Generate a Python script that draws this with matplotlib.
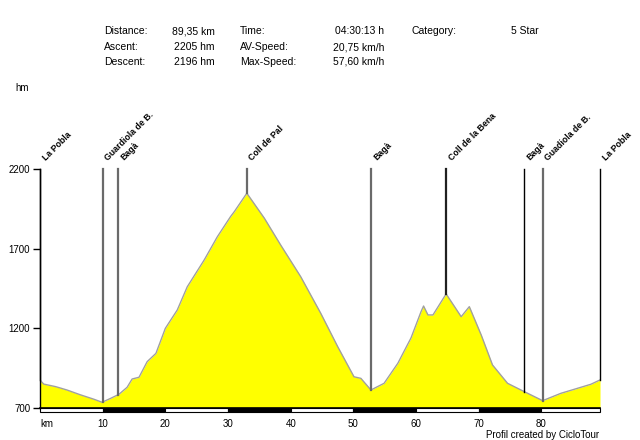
import numpy as np
import matplotlib
matplotlib.use("Agg")
import matplotlib.pyplot as plt
from matplotlib.patches import Rectangle
from matplotlib.transforms import blended_transform_factory

plt.rcParams['font.family'] = ['Liberation Sans', 'DejaVu Sans']

# elevation profile (km, hm)
km = [0, 0.6, 2.5, 4.3, 6.5, 8.6, 9.9, 11.3, 12.6, 13.9, 14.7, 15.8, 17.1, 18.5,
      20.0, 21.9, 23.5, 26.2, 28.3, 30.4, 31.0, 33.0, 35.8, 38.4, 41.6, 44.8,
      47.5, 50.1, 51.2, 52.8, 54.9, 57.1, 59.2, 60.8, 61.2, 61.9, 62.7, 64.8,
      67.2, 68.5, 70.4, 72.2, 74.6, 77.3, 80.2, 83.1, 85.8, 87.9, 89.35]
elev = [875, 850, 834, 813, 782, 755, 736, 761, 786, 830, 882, 893, 991, 1043,
        1200, 1315, 1461, 1629, 1775, 1901, 1932, 2048, 1891, 1723, 1524, 1294,
        1085, 896, 886, 813, 855, 981, 1140, 1305, 1340, 1284, 1284, 1416,
        1273, 1336, 1158, 970, 855, 802, 746, 792, 824, 849, 876]

# waypoints
wp_km = [0, 10.0, 12.5, 33.0, 52.8, 64.8, 77.3, 80.2, 89.35]
wp_names = ["La Pobla", "Guardiola de B.", "Bagà", "Coll de Pal", "Bagà",
            "Coll de la Bena", "Bagà", "Guadiola de B.", "La Pobla"]
wp_colors = ["#000000", "#6a6a6a", "#6a6a6a", "#6a6a6a", "#6a6a6a",
             "#202020", "#000000", "#6a6a6a", "#000000"]

yticks = [700, 1200, 1700, 2200]
xticks = [10, 20, 30, 40, 50, 60, 70, 80]

# header stats
stats_left = [("Distance:", "89,35 km"), ("Ascent:", "2205 hm"), ("Descent:", "2196 hm")]
stats_mid = [("Time:", "04:30:13 h"), ("AV-Speed:", "20,75 km/h"), ("Max-Speed:", "57,60 km/h")]

W, H = 640, 440
fig = plt.figure(figsize=(6.4, 4.4), dpi=100)
ax = fig.add_axes([40 / W, 1 - 408 / H, 560 / W, 239 / H])
ax.set_xlim(0, 89.35)
ax.set_ylim(700, 2200)

ax.fill_between(km, elev, 700, color="#ffff00", lw=0)
ax.plot(km, elev, color="#a0a0a0", lw=1.0)

# waypoint lines and labels
wp_elev = np.interp(wp_km, km, elev)
for x, e, name, c in zip(wp_km, wp_elev, wp_names, wp_colors):
    lw = 1.0 if c == "#000000" else 1.6
    ax.plot([x, x], [e, 2200], color=c, lw=lw, clip_on=False, zorder=3)
    ax.text(x + 0.9, 2250, name, rotation=45, rotation_mode="anchor",
            ha="left", va="baseline", fontsize=6.3, fontweight="bold", clip_on=False)

# axes styling
for s in ["top", "right", "bottom"]:
    ax.spines[s].set_visible(False)
ax.spines["left"].set_linewidth(1.0)
ax.set_yticks(yticks)
ax.set_yticklabels([str(v) for v in yticks], fontsize=7)
ax.tick_params(axis="y", length=5, width=1, pad=2)
ax.set_xticks([])

# km bar below the axis
tr = blended_transform_factory(ax.transData, ax.transAxes)
ax.plot([0, 89.35], [0, 0], transform=tr, color="black", lw=1.2, clip_on=False)
edges = [0] + xticks + [89.35]
for i in range(len(edges) - 1):
    fc = "black" if i % 2 == 1 else "white"
    ax.add_patch(Rectangle((edges[i], -0.017), edges[i + 1] - edges[i], 0.017,
                           transform=tr, facecolor=fc, edgecolor="black", lw=0.8,
                           clip_on=False))
for x in xticks:
    ax.text(x, -0.045, str(x), transform=tr, ha="center", va="top", fontsize=7)
ax.text(0, -0.045, "km", transform=tr, ha="left", va="top", fontsize=7)

# header
rows_y = [31, 47, 62]
for (lab, val), y in zip(stats_left, rows_y):
    fig.text(104 / W, 1 - y / H, lab, fontsize=7.5, va="center", ha="left")
    fig.text(215 / W, 1 - y / H, val, fontsize=7.5, va="center", ha="right")
for (lab, val), y in zip(stats_mid, rows_y):
    fig.text(240 / W, 1 - y / H, lab, fontsize=7.5, va="center", ha="left")
    fig.text(384 / W, 1 - y / H, val, fontsize=7.5, va="center", ha="right")
fig.text(412 / W, 1 - 31 / H, "Category:", fontsize=7.5, va="center", ha="left")
fig.text(511 / W, 1 - 31 / H, "5 Star", fontsize=7.5, va="center", ha="left")

fig.text(15 / W, 1 - 88 / H, "hm", fontsize=7, va="center", ha="left")
fig.text(599 / W, 1 - 435 / H, "Profil created by CicloTour", fontsize=7,
         va="center", ha="right")

fig.savefig("out.png", dpi=100)
